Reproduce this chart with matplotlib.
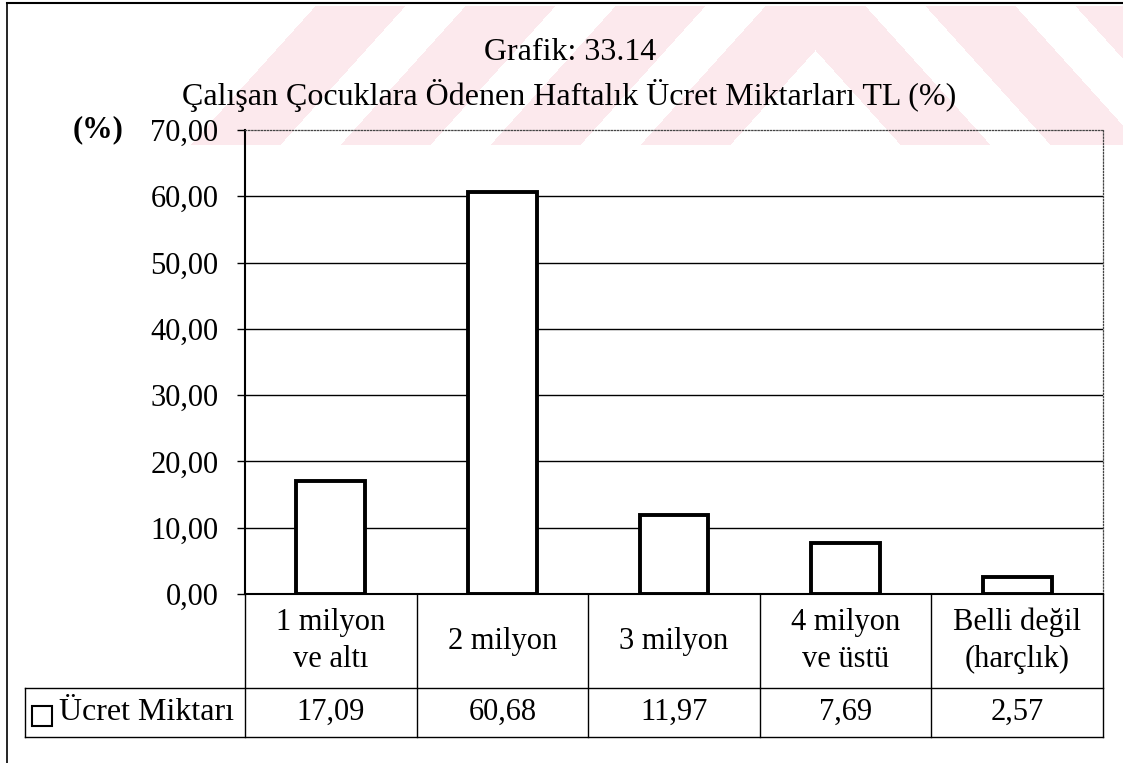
import numpy as np
import matplotlib
matplotlib.use("Agg")
import matplotlib.pyplot as plt
from matplotlib.lines import Line2D
from matplotlib.patches import Rectangle
import matplotlib.transforms as mtransforms

# ---- data ----
categories = ["1 milyon\nve altı", "2 milyon", "3 milyon", "4 milyon\nve üstü", "Belli değil\n(harçlık)"]
values = [17.09, 60.68, 11.97, 7.69, 2.57]
series_name = "Ücret Miktarı"
title_line1 = "Grafik: 33.14"
title_line2 = "Çalışan Çocuklara Ödenen Haftalık Ücret Miktarları TL (%)"
y_ticks = [0, 10, 20, 30, 40, 50, 60, 70]

def fmt(v):
    return f"{v:.2f}".replace(".", ",")

plt.rcParams['font.family'] = ['Liberation Serif', 'DejaVu Serif']
FS = 22

W, H = 1123, 763
fig = plt.figure(figsize=(W / 100, H / 100), dpi=100)
fig.patch.set_facecolor('white')

# overlay axes in pixel coordinates (y downward)
fa = fig.add_axes([0, 0, 1, 1])
fa.set_xlim(0, W)
fa.set_ylim(H, 0)
fa.axis('off')

# faint watermark (decoration)
yy, xx = np.mgrid[0:H, 0:W]
s = 0.9 * (yy - 50) - np.abs(xx - 815)
mask = (s < 0) & (s > -540) & (((-s) % 150) < 90) & (yy > 5) & (yy < 145)
img = np.zeros((H, W, 4))
img[..., 0] = 0.99
img[..., 1] = 0.915
img[..., 2] = 0.93
img[..., 3] = mask.astype(float)
fa.imshow(img, extent=(0, W, H, 0), zorder=0, interpolation='nearest', aspect='auto')

# figure frame lines (left and top)
fa.add_line(Line2D([7, 7], [3, H], color='black', lw=1.2))
fa.add_line(Line2D([7, W], [3, 3], color='black', lw=1.5))

# main axes
left, right, top, bottom = 245, 1103, 130, 594
ax = fig.add_axes([left / W, 1 - bottom / H, (right - left) / W, (bottom - top) / H])
ax.set_facecolor('none')
n = len(categories)
x = np.arange(n)
ax.set_xlim(-0.5, n - 0.5)
ax.set_ylim(0, 70)

for t in y_ticks[1:-1]:
    ax.axhline(t, color='black', lw=1.0, zorder=1)

ax.bar(x, values, width=0.40, color='white', edgecolor='black', linewidth=2.8, zorder=3)

ax.set_yticks(y_ticks)
ax.set_yticklabels([fmt(t) for t in y_ticks], fontsize=FS)
ax.tick_params(axis='y', direction='out', length=6, width=1.0, pad=13)
ax.set_xticks([])
for sp in ['top', 'right']:
    ax.spines[sp].set_linestyle((0, (1, 1.5)))
    ax.spines[sp].set_color('#444444')
    ax.spines[sp].set_linewidth(0.9)
ax.spines['left'].set_linewidth(1.5)
ax.spines['bottom'].set_linewidth(1.5)

# titles
fig.text(570 / W, 1 - 52 / H, title_line1, ha='center', va='center', fontsize=23)
fig.text(569 / W, 1 - 95 / H, title_line2, ha='center', va='center', fontsize=23)
fig.text(98 / W, 1 - 130 / H, "(%)", ha='center', va='center', fontsize=FS, fontweight='bold')

# data table below the axes
blend = mtransforms.blended_transform_factory(ax.transData, fa.transData)
row1_top, row1_bot, row2_bot = 594, 688, 737
bounds = np.arange(n + 1) - 0.5
for b in bounds:
    fa.add_line(Line2D([b, b], [row1_top, row2_bot], color='black', lw=1.0, transform=blend, zorder=2))
fa.add_line(Line2D([25, right], [row1_bot, row1_bot], color='black', lw=1.0, zorder=2))
fa.add_line(Line2D([25, right], [row2_bot, row2_bot], color='black', lw=1.0, zorder=2))
fa.add_line(Line2D([25, 25], [row1_bot, row2_bot], color='black', lw=1.0, zorder=2))

for i, (c, v) in enumerate(zip(categories, values)):
    fa.text(i, (row1_top + row1_bot) / 2, c, ha='center', va='center', fontsize=FS,
            linespacing=1.35, transform=blend)
    fa.text(i, (row1_bot + row2_bot) / 2, fmt(v), ha='center', va='center', fontsize=FS,
            transform=blend)

fa.add_patch(Rectangle((32, 706), 20, 20, facecolor='white', edgecolor='black', lw=1.5, zorder=3))
fa.text(59, (row1_bot + row2_bot) / 2, series_name, ha='left', va='center', fontsize=23)

fig.savefig("out.png", dpi=100)
